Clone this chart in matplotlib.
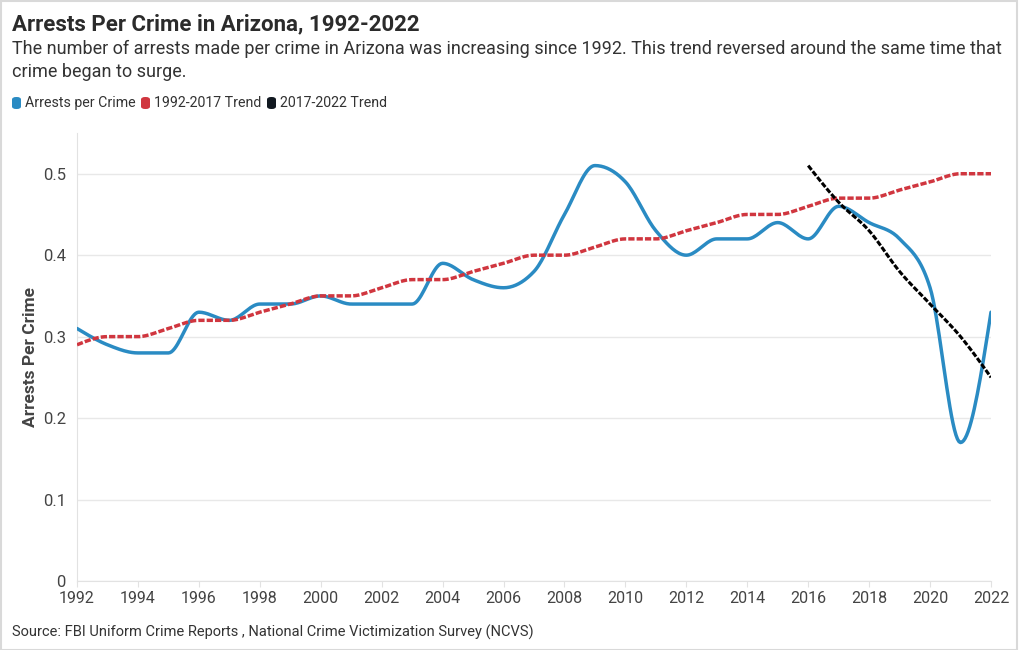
import numpy as np
import matplotlib
matplotlib.use("Agg")
import matplotlib.pyplot as plt
from matplotlib.patches import FancyBboxPatch, Rectangle

plt.rcParams['font.family'] = ['Roboto', 'DejaVu Sans']

years = list(range(1992, 2023))
arrests_per_crime = [0.31, 0.29, 0.28, 0.28, 0.33, 0.32, 0.34, 0.34, 0.35, 0.34,
                     0.34, 0.34, 0.39, 0.37, 0.36, 0.38, 0.45, 0.51, 0.49, 0.43,
                     0.40, 0.42, 0.42, 0.44, 0.42, 0.46, 0.44, 0.42, 0.36, 0.17,
                     0.33]
trend_1992_2017 = [0.29, 0.30, 0.30, 0.31, 0.32, 0.32, 0.33, 0.34, 0.35, 0.35,
                   0.36, 0.37, 0.37, 0.38, 0.39, 0.40, 0.40, 0.41, 0.42, 0.42,
                   0.43, 0.44, 0.45, 0.45, 0.46, 0.47, 0.47, 0.48, 0.49, 0.50,
                   0.50]
trend_years_2017 = [2016, 2017, 2018, 2019, 2020, 2021, 2022]
trend_2017_2022 = [0.51, 0.465, 0.43, 0.38, 0.34, 0.30, 0.25]

series_names = ["Arrests per Crime", "1992-2017 Trend", "2017-2022 Trend"]
colors = ["#2a8bc3", "#d0363f", "#111820"]


def monotone_curve(x, y, n=20):
    # cubic hermite with monotone slopes (like d3 curveMonotoneX), for drawing only
    x = np.asarray(x, float)
    y = np.asarray(y, float)
    h = np.diff(x)
    d = np.diff(y) / h
    m = np.zeros_like(y)
    for i in range(1, len(y) - 1):
        if d[i - 1] * d[i] <= 0:
            m[i] = 0
        else:
            s = (d[i - 1] * h[i] + d[i] * h[i - 1]) / (h[i - 1] + h[i])
            m[i] = np.sign(s) * min(abs(s), 2 * min(abs(d[i - 1]), abs(d[i])))
    m[0] = (3 * d[0] - m[1]) / 2
    m[-1] = (3 * d[-1] - m[-2]) / 2
    xs, ys = [], []
    for i in range(len(x) - 1):
        t = np.linspace(0, 1, n, endpoint=False)
        h00 = 2 * t**3 - 3 * t**2 + 1
        h10 = t**3 - 2 * t**2 + t
        h01 = -2 * t**3 + 3 * t**2
        h11 = t**3 - t**2
        xs.append(x[i] + t * h[i])
        ys.append(h00 * y[i] + h10 * h[i] * m[i] + h01 * y[i + 1] + h11 * h[i] * m[i + 1])
    xs.append([x[-1]])
    ys.append([y[-1]])
    return np.concatenate(xs), np.concatenate(ys)


fig = plt.figure(figsize=(10.2, 6.5), dpi=100)
W, H = 1020, 650
ax = fig.add_axes([77 / W, 1 - 581 / H, (991 - 77) / W, (581 - 133) / H])

bx, by = monotone_curve(years, arrests_per_crime)
rx, ry = monotone_curve(years, trend_1992_2017)
kx, ky = monotone_curve(trend_years_2017, trend_2017_2022)

ax.plot(bx, by, color=colors[0], lw=2.5, solid_capstyle='round', zorder=3)
ax.plot(rx, ry, color=colors[1], lw=2.5, ls=(0, (1.8, 0.6)), zorder=4)
ax.plot(kx, ky, color="#000000", lw=2.2, ls=(0, (1.8, 0.6)), zorder=5)

ax.set_xlim(1992, 2022)
ax.set_ylim(0, 0.55)
ax.set_xticks(range(1992, 2023, 2))
ax.set_yticks([0, 0.1, 0.2, 0.3, 0.4, 0.5])
ax.set_yticklabels(["0", "0.1", "0.2", "0.3", "0.4", "0.5"])
ax.grid(axis='y', color='#e8e8e8', lw=1)
ax.set_axisbelow(True)
for s in ['top', 'right']:
    ax.spines[s].set_visible(False)
ax.spines['left'].set_color('#e2e2e2')
ax.spines['bottom'].set_color('#e2e2e2')
ax.tick_params(axis='y', length=0, pad=8, labelsize=12, labelcolor='#444444')
ax.tick_params(axis='x', length=4, color='#e2e2e2', pad=3, labelsize=11.5, labelcolor='#444444')
ax.set_ylabel("Arrests Per Crime", fontsize=12.5, fontweight='bold', color='#444444', labelpad=2)
ax.yaxis.set_label_coords(-39 / 914, 0.5)

fig.text(12 / W, 1 - 24 / H, "Arrests Per Crime in Arizona, 1992-2022", fontsize=16,
         fontweight='bold', color='#2b2b2b', va='center', ha='left')
fig.text(12 / W, 1 - 49 / H, "The number of arrests made per crime in Arizona was increasing since 1992. "
         "This trend reversed around the same time that", fontsize=13, color='#333333', va='center')
fig.text(12 / W, 1 - 72 / H, "crime began to surge.", fontsize=13, color='#333333', va='center')

legend_x = [12, 141, 267]
for lx, name, c in zip(legend_x, series_names, colors):
    fig.patches.append(FancyBboxPatch((lx / W, 1 - 109 / H), 9 / W, 12 / H,
                                      boxstyle="round,pad=0,rounding_size=0.004",
                                      transform=fig.transFigure, fc=c, ec='none'))
    fig.text((lx + 13) / W, 1 - 103 / H, name, fontsize=10.2, color='#333333', va='center')

fig.text(12 / W, 1 - 632 / H, "Source: FBI Uniform Crime Reports , National Crime Victimization Survey (NCVS)",
         fontsize=10.5, color='#333333', va='center')

fig.patches.append(Rectangle((0.5 / W, 0.5 / H), 1 - 3 / W, 1 - 1 / H, transform=fig.transFigure,
                             fill=False, ec='#d9d9d9', lw=1.5))

fig.savefig("out.png", dpi=100)
